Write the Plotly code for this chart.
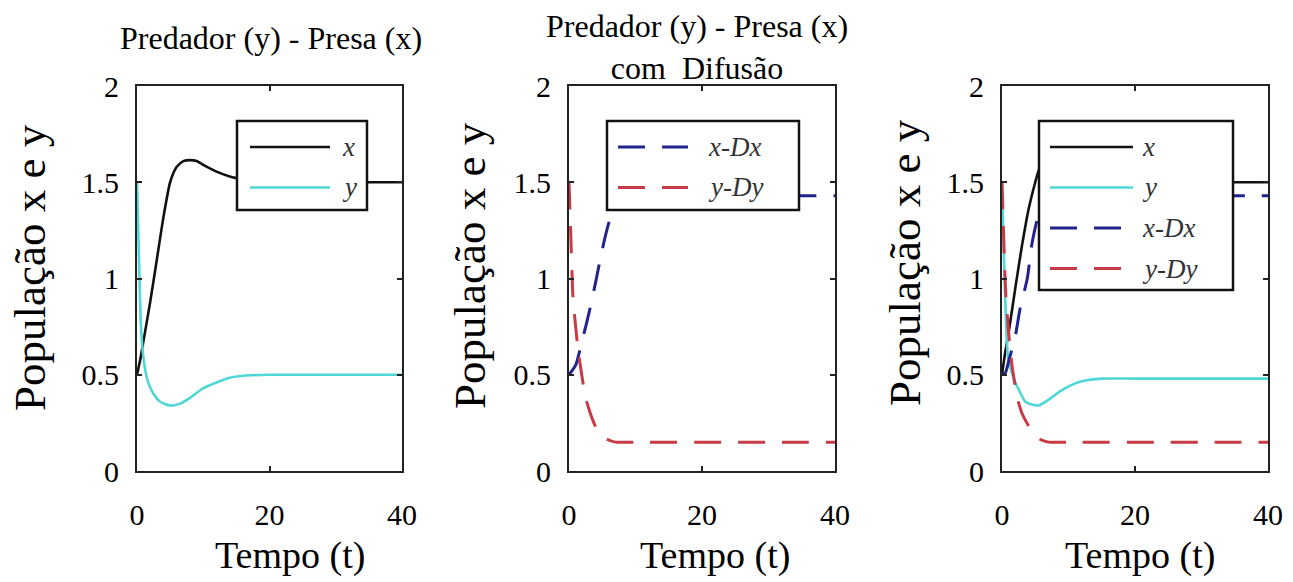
import plotly.graph_objects as go

# ---------------- data ----------------
# Panel 1: predator-prey without diffusion
t_x1 = [0, 0.5, 1, 2, 3, 4, 5, 6, 7, 8, 9, 10, 12, 14, 16, 18, 20, 25, 30, 35, 40]
x1 = [0.5, 0.58, 0.68, 0.88, 1.1, 1.32, 1.5, 1.58, 1.61, 1.615, 1.61, 1.59, 1.555, 1.53,
      1.515, 1.505, 1.5, 1.5, 1.5, 1.5, 1.5]
t_y1 = [0, 0.3, 0.6, 1.0, 1.6, 2.5, 3.5, 5, 6.5, 8, 10, 12, 14, 16, 20, 25, 30, 35, 40]
y1 = [1.5, 1.1, 0.75, 0.58, 0.47, 0.40, 0.36, 0.34, 0.35, 0.38, 0.43, 0.46, 0.485, 0.495,
      0.5, 0.5, 0.5, 0.5, 0.5]

# Panel 2: with diffusion
t_xd2 = [0, 1, 2, 3, 4, 5, 6, 7, 8, 10, 15, 20, 25, 30, 35, 40]
xd2 = [0.5, 0.55, 0.68, 0.82, 0.98, 1.15, 1.29, 1.36, 1.4, 1.43, 1.43, 1.43, 1.43, 1.43, 1.43, 1.43]
t_yd2 = [0, 0.2, 0.4, 0.6, 1.0, 1.4, 2.0, 2.5, 3.2, 4.0, 5.0, 6.0, 7, 10, 15, 20, 25, 30, 35, 40]
yd2 = [1.5, 1.3, 1.08, 0.9, 0.75, 0.62, 0.48, 0.38, 0.3, 0.23, 0.18, 0.16, 0.15, 0.15, 0.15,
       0.15, 0.15, 0.15, 0.15, 0.15]

# Panel 3: both models together
t_x3 = [0, 0.5, 1, 2, 3, 4, 5, 5.5, 6, 7, 9, 12, 15, 20, 25, 30, 35, 40]
x3 = [0.5, 0.62, 0.72, 0.95, 1.17, 1.36, 1.5, 1.56, 1.59, 1.61, 1.6, 1.55, 1.52, 1.5, 1.5,
      1.5, 1.5, 1.5]
t_y3 = [0, 0.3, 0.6, 0.9, 1.4, 2.0, 2.7, 3.5, 4.5, 5.5, 7, 9, 11, 12.5, 15, 20, 25, 30, 35, 40]
y3 = [1.5, 1.1, 0.78, 0.59, 0.52, 0.46, 0.41, 0.36, 0.345, 0.34, 0.37, 0.42, 0.455, 0.47,
      0.48, 0.48, 0.48, 0.48, 0.48, 0.48]
t_xd3 = [0, 0.5, 1, 2, 2.7, 3.8, 4.5, 5.4, 6, 7, 8, 10, 15, 20, 25, 30, 35, 40]
xd3 = [0.5, 0.51, 0.57, 0.70, 0.84, 1.0, 1.18, 1.32, 1.36, 1.39, 1.41, 1.43, 1.43, 1.43,
       1.43, 1.43, 1.43, 1.43]
t_yd3 = [0, 0.2, 0.4, 0.6, 1.0, 1.5, 2.3, 3.0, 3.9, 5.0, 6.0, 7, 10, 15, 20, 25, 30, 35, 40]
yd3 = [1.5, 1.28, 1.06, 0.9, 0.72, 0.55, 0.38, 0.3, 0.24, 0.18, 0.16, 0.15, 0.15, 0.15, 0.15,
       0.15, 0.15, 0.15, 0.15]

x_ticks = [0, 20, 40]
y_ticks = [0, 0.5, 1, 1.5, 2]
y_tick_text = ["0", "0.5", "1", "1.5", "2"]

title_1 = "Predador (y) - Presa (x)"
title_2 = "Predador (y) - Presa (x)<br>com  Difusão"
x_title = "Tempo (t)"
y_title = "População x e y"

names_1 = ["x", "y"]
names_2 = ["x-Dx", "y-Dy"]
names_3 = ["x", "y", "x-Dx", "y-Dy"]

# ---------------- styling ----------------
W, H = 1293, 582
FONT = "Liberation Serif, Times New Roman, serif"
C_BLACK = "#111111"
C_CYAN = "#4fd6d6"
C_BLUE = "#23238e"
C_RED = "#c83a46"
DASH = "27px,17px"

STYLE = {
    "x": dict(color=C_BLACK, width=2.6),
    "y": dict(color=C_CYAN, width=2.6),
    "x-Dx": dict(color=C_BLUE, width=3, dash=DASH),
    "y-Dy": dict(color=C_RED, width=3, dash=DASH),
}


def px(x):
    return x / W


def py(y):
    return 1 - y / H


# plot areas in pixels: (left, right), top, bottom
PANELS = [(137, 402), (569, 835), (1002, 1268)]
TOP, BOTTOM = 86, 471

fig = go.Figure()

series = [
    (1, "x", t_x1, x1), (1, "y", t_y1, y1),
    (2, "x-Dx", t_xd2, xd2), (2, "y-Dy", t_yd2, yd2),
    (3, "x", t_x3, x3), (3, "y", t_y3, y3),
    (3, "x-Dx", t_xd3, xd3), (3, "y-Dy", t_yd3, yd3),
]
for panel, name, t, v in series:
    suffix = "" if panel == 1 else str(panel)
    fig.add_trace(go.Scatter(
        x=t, y=v, mode="lines", name=name, showlegend=False,
        line=dict(shape="spline", smoothing=0.6, **STYLE[name]),
        xaxis="x" + suffix, yaxis="y" + suffix,
    ))

axis_common = dict(
    showgrid=False, zeroline=False, showline=True, linecolor="#222222", linewidth=2,
    mirror="ticks", ticks="inside", ticklen=5, tickwidth=1.5, tickcolor="#222222",
    automargin=False,
    tickfont=dict(family=FONT, size=30, color="black"),
)

layout = dict(
    template="none",
    width=W, height=H, margin=dict(l=0, r=0, t=0, b=0, pad=0),
    paper_bgcolor="white", plot_bgcolor="white", showlegend=False,
    font=dict(family=FONT, color="black"),
)
for i, (l, r) in enumerate(PANELS):
    suffix = "" if i == 0 else str(i + 1)
    layout["xaxis" + suffix] = dict(
        domain=[px(l), px(r)], range=[0, 40], tickvals=x_ticks,
        anchor="y" + suffix, ticklabelstandoff=16, **axis_common)
    layout["yaxis" + suffix] = dict(
        domain=[py(BOTTOM), py(TOP)], range=[0, 2], tickvals=y_ticks, ticktext=y_tick_text,
        anchor="x" + suffix, ticklabelstandoff=10, **axis_common)
fig.update_layout(**layout)


def label(text, x, y, size, **extra):
    return dict(text=text, x=px(x), y=py(y), xref="paper", yref="paper",
                xanchor=extra.pop("xanchor", "center"), yanchor="middle",
                showarrow=False, font=dict(family=FONT, size=size,
                                           color=extra.pop("color", "black"),
                                           style=extra.pop("style", "normal")),
                **extra)


annotations = []
# titles
annotations.append(label(title_1, 271, 38, 32))
annotations.append(label(title_2, 697, 47, 32))
# axis titles
for cx, cy in [(290, 555), (715, 555), (1140, 555)]:
    annotations.append(label(x_title, cx, cy, 38))
for cx, cy in [(30, 268), (470, 266), (905, 263)]:
    annotations.append(label(y_title, cx, cy, 45, textangle=-90))

# legend boxes drawn as shapes: (box left, right, top, bottom, line x0, x1, label x, names)
LEGENDS = [
    (237, 367, 121, 210, 250, 330, 340, names_1),
    (607, 799, 121, 210, 618, 688, 706, names_2),
    (1039, 1233, 121, 290, 1050, 1133, 1140, names_3),
]
shapes = []
for bl, br, bt, bb, lx0, lx1, tx, names in LEGENDS:
    shapes.append(dict(type="rect", xref="paper", yref="paper", x0=px(bl), x1=px(br),
                       y0=py(bb), y1=py(bt), fillcolor="white",
                       line=dict(color="#111111", width=2.5), layer="above"))
    for k, name in enumerate(names):
        yy = 147 + 40.5 * k
        st = STYLE[name]
        shapes.append(dict(type="line", xref="paper", yref="paper", x0=px(lx0), x1=px(lx1),
                           y0=py(yy), y1=py(yy), layer="above",
                           line=dict(color=st["color"], width=st["width"],
                                     dash=st.get("dash", "solid"))))
        annotations.append(label(name, tx, yy, 27, xanchor="left", color="#333333",
                                 style="italic"))

fig.update_layout(shapes=shapes, annotations=annotations)
fig.write_html("out.html")
